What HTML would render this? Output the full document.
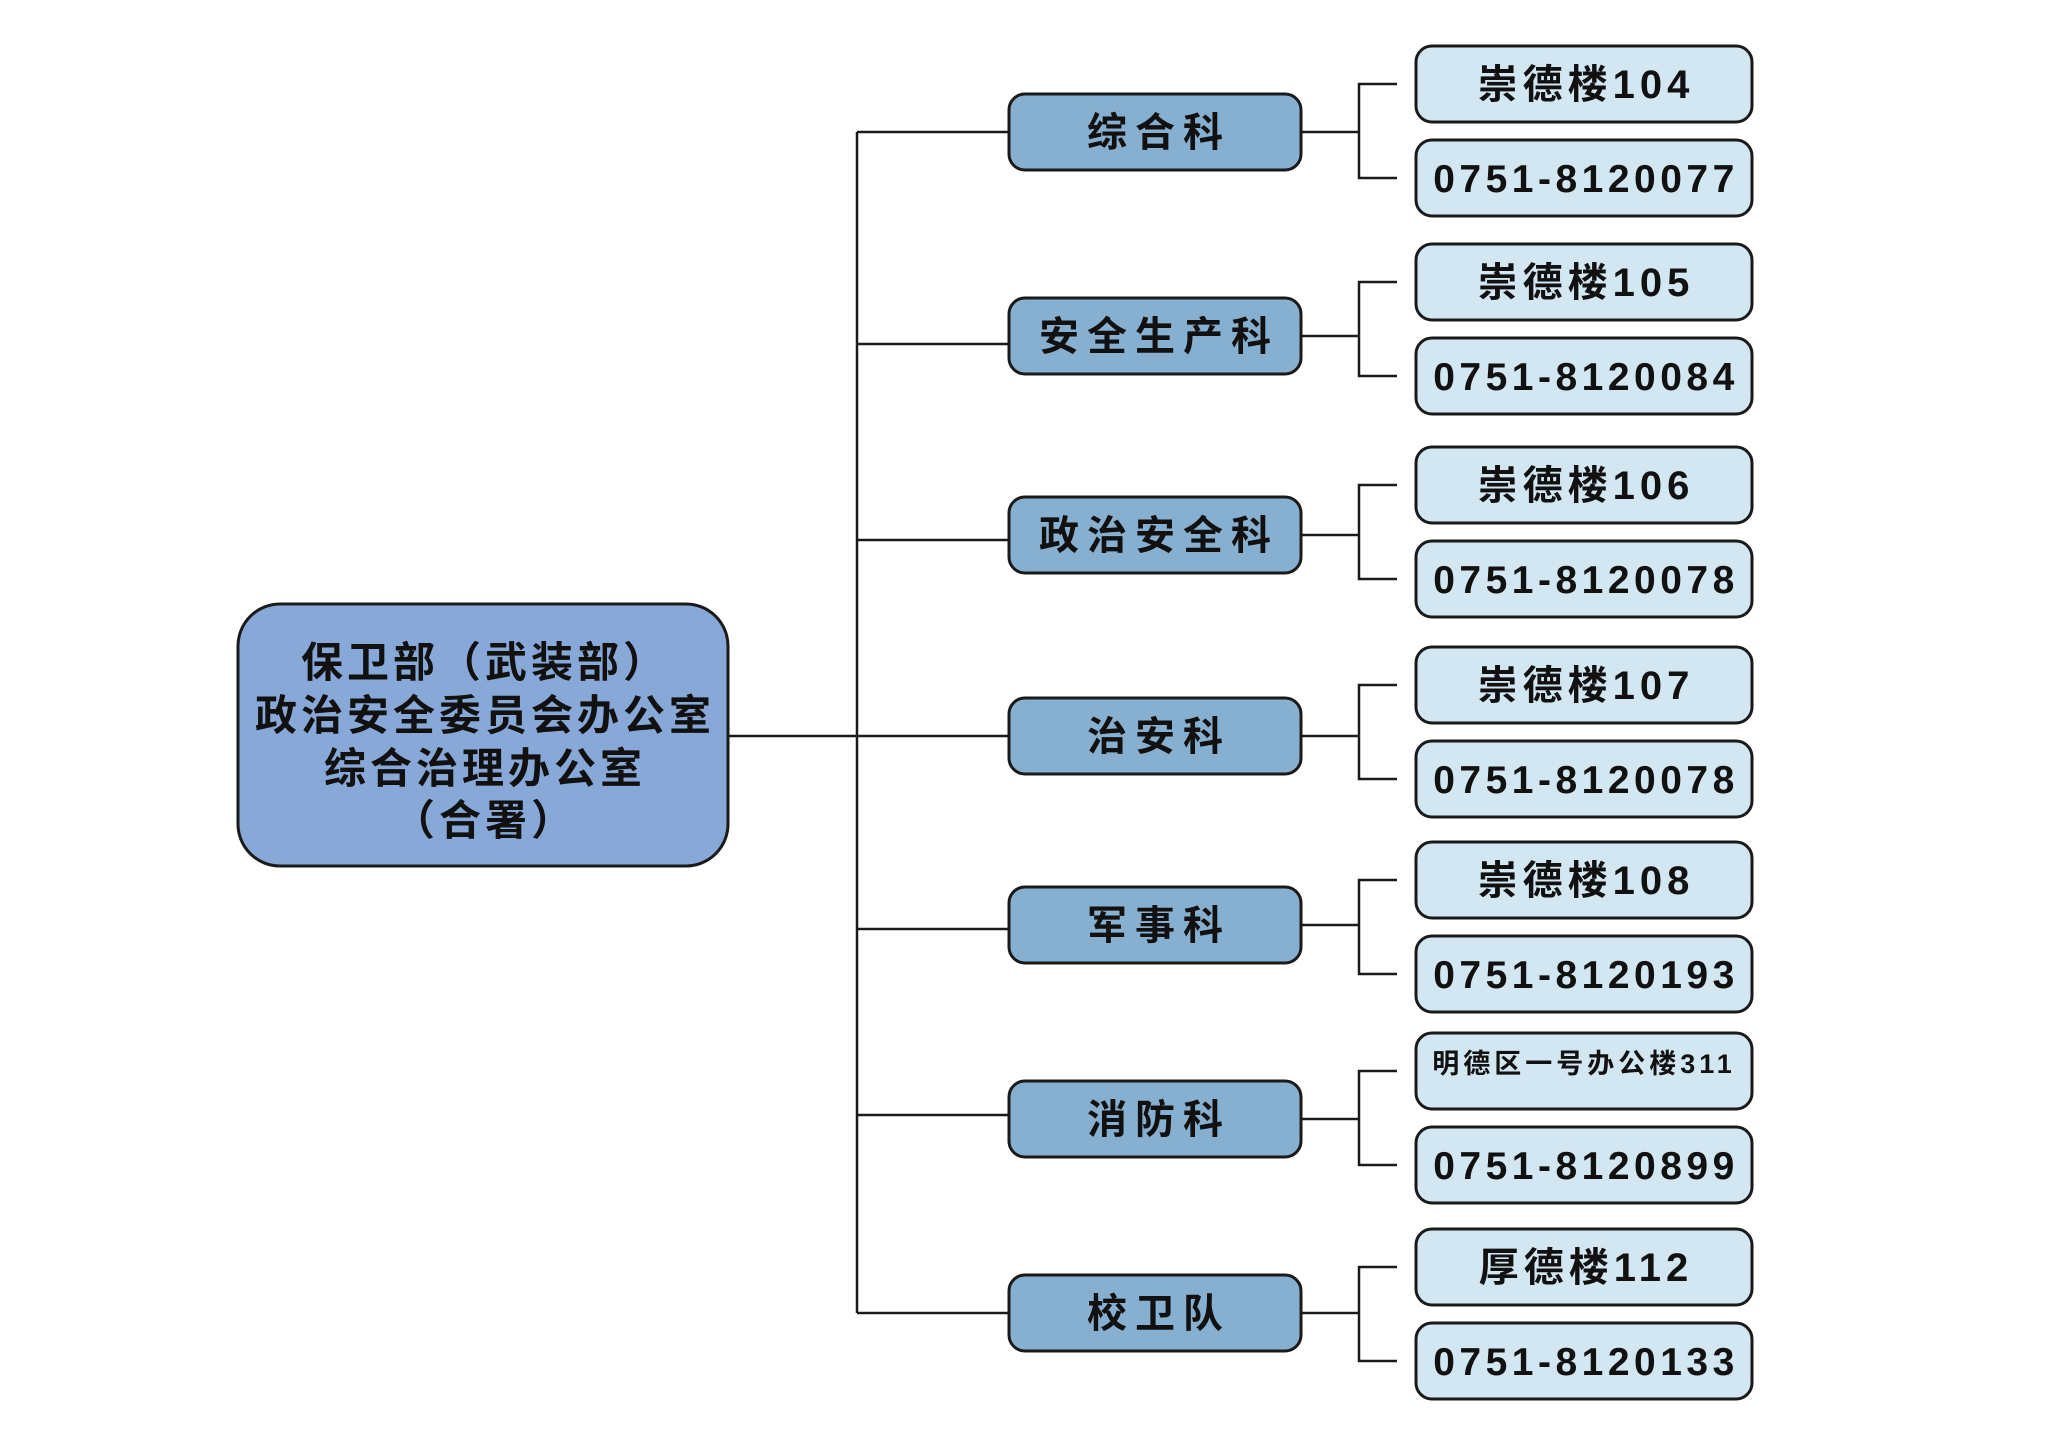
<!DOCTYPE html>
<html><head><meta charset="utf-8"><style>
html,body{margin:0;padding:0;background:#fff;}
svg{display:block;}
text{font-family:"Liberation Sans","Noto Sans CJK SC",sans-serif;fill:#111;font-weight:bold;text-anchor:middle;}
.d{font-size:40px;letter-spacing:8px;}
.a{font-size:40px;letter-spacing:5px;}
.p{font-size:39px;letter-spacing:4.5px;}
.s{font-size:27px;letter-spacing:4px;}
.db{fill:#87b0d0;stroke:#1a1a1a;stroke-width:3;}
.rb{fill:#d3e7f3;stroke:#1a1a1a;stroke-width:3;}
</style></head><body>
<svg width="2048" height="1447" viewBox="0 0 2048 1447" xmlns="http://www.w3.org/2000/svg">
<g stroke="#1a1a1a" stroke-width="2.5" fill="none">
<line x1="857" y1="132" x2="857" y2="1313"/>
<line x1="728" y1="736" x2="1009" y2="736"/>
<line x1="857" y1="132" x2="1009" y2="132"/>
<line x1="857" y1="344" x2="1009" y2="344"/>
<line x1="857" y1="540" x2="1009" y2="540"/>
<line x1="857" y1="929" x2="1009" y2="929"/>
<line x1="857" y1="1115" x2="1009" y2="1115"/>
<line x1="857" y1="1313" x2="1009" y2="1313"/>
<line x1="1301" y1="132" x2="1359" y2="132"/><polyline points="1397,84 1359,84 1359,178 1397,178"/>
<line x1="1301" y1="336" x2="1359" y2="336"/><polyline points="1397,282 1359,282 1359,376 1397,376"/>
<line x1="1301" y1="535" x2="1359" y2="535"/><polyline points="1397,485 1359,485 1359,579 1397,579"/>
<line x1="1301" y1="736" x2="1359" y2="736"/><polyline points="1397,685 1359,685 1359,779 1397,779"/>
<line x1="1301" y1="925" x2="1359" y2="925"/><polyline points="1397,880 1359,880 1359,974 1397,974"/>
<line x1="1301" y1="1119" x2="1359" y2="1119"/><polyline points="1397,1071 1359,1071 1359,1165 1397,1165"/>
<line x1="1301" y1="1313" x2="1359" y2="1313"/><polyline points="1397,1267 1359,1267 1359,1361 1397,1361"/>
</g>
<rect x="238" y="604" width="490" height="262" rx="42" fill="#88a9d8" stroke="#1a1a1a" stroke-width="3"/>
<g font-size="42" letter-spacing="4">
<text x="485" y="677">保卫部（武装部）</text>
<text x="485" y="730">政治安全委员会办公室</text>
<text x="485" y="783">综合治理办公室</text>
<text x="485" y="835">（合署）</text>
</g>

<rect class="db" x="1009" y="94" width="292" height="76" rx="16"/><text class="d" x="1159" y="146">综合科</text>
<rect class="db" x="1009" y="298" width="292" height="76" rx="16"/><text class="d" x="1159" y="350">安全生产科</text>
<rect class="db" x="1009" y="497" width="292" height="76" rx="16"/><text class="d" x="1159" y="549">政治安全科</text>
<rect class="db" x="1009" y="698" width="292" height="76" rx="16"/><text class="d" x="1159" y="750">治安科</text>
<rect class="db" x="1009" y="887" width="292" height="76" rx="16"/><text class="d" x="1159" y="939">军事科</text>
<rect class="db" x="1009" y="1081" width="292" height="76" rx="16"/><text class="d" x="1159" y="1133">消防科</text>
<rect class="db" x="1009" y="1275" width="292" height="76" rx="16"/><text class="d" x="1159" y="1327">校卫队</text>

<rect class="rb" x="1416" y="46" width="336" height="76" rx="16"/><text class="a" x="1586" y="98">崇德楼104</text>
<rect class="rb" x="1416" y="140" width="336" height="76" rx="16"/><text class="p" x="1586" y="192">0751-8120077</text>
<rect class="rb" x="1416" y="244" width="336" height="76" rx="16"/><text class="a" x="1586" y="296">崇德楼105</text>
<rect class="rb" x="1416" y="338" width="336" height="76" rx="16"/><text class="p" x="1586" y="390">0751-8120084</text>
<rect class="rb" x="1416" y="447" width="336" height="76" rx="16"/><text class="a" x="1586" y="499">崇德楼106</text>
<rect class="rb" x="1416" y="541" width="336" height="76" rx="16"/><text class="p" x="1586" y="593">0751-8120078</text>
<rect class="rb" x="1416" y="647" width="336" height="76" rx="16"/><text class="a" x="1586" y="699">崇德楼107</text>
<rect class="rb" x="1416" y="741" width="336" height="76" rx="16"/><text class="p" x="1586" y="793">0751-8120078</text>
<rect class="rb" x="1416" y="842" width="336" height="76" rx="16"/><text class="a" x="1586" y="894">崇德楼108</text>
<rect class="rb" x="1416" y="936" width="336" height="76" rx="16"/><text class="p" x="1586" y="988">0751-8120193</text>
<rect class="rb" x="1416" y="1033" width="336" height="76" rx="16"/><text class="s" x="1584" y="1073">明德区一号办公楼311</text>
<rect class="rb" x="1416" y="1127" width="336" height="76" rx="16"/><text class="p" x="1586" y="1179">0751-8120899</text>
<rect class="rb" x="1416" y="1229" width="336" height="76" rx="16"/><text class="a" x="1586" y="1281">厚德楼112</text>
<rect class="rb" x="1416" y="1323" width="336" height="76" rx="16"/><text class="p" x="1586" y="1375">0751-8120133</text>
</svg>
</body></html>
